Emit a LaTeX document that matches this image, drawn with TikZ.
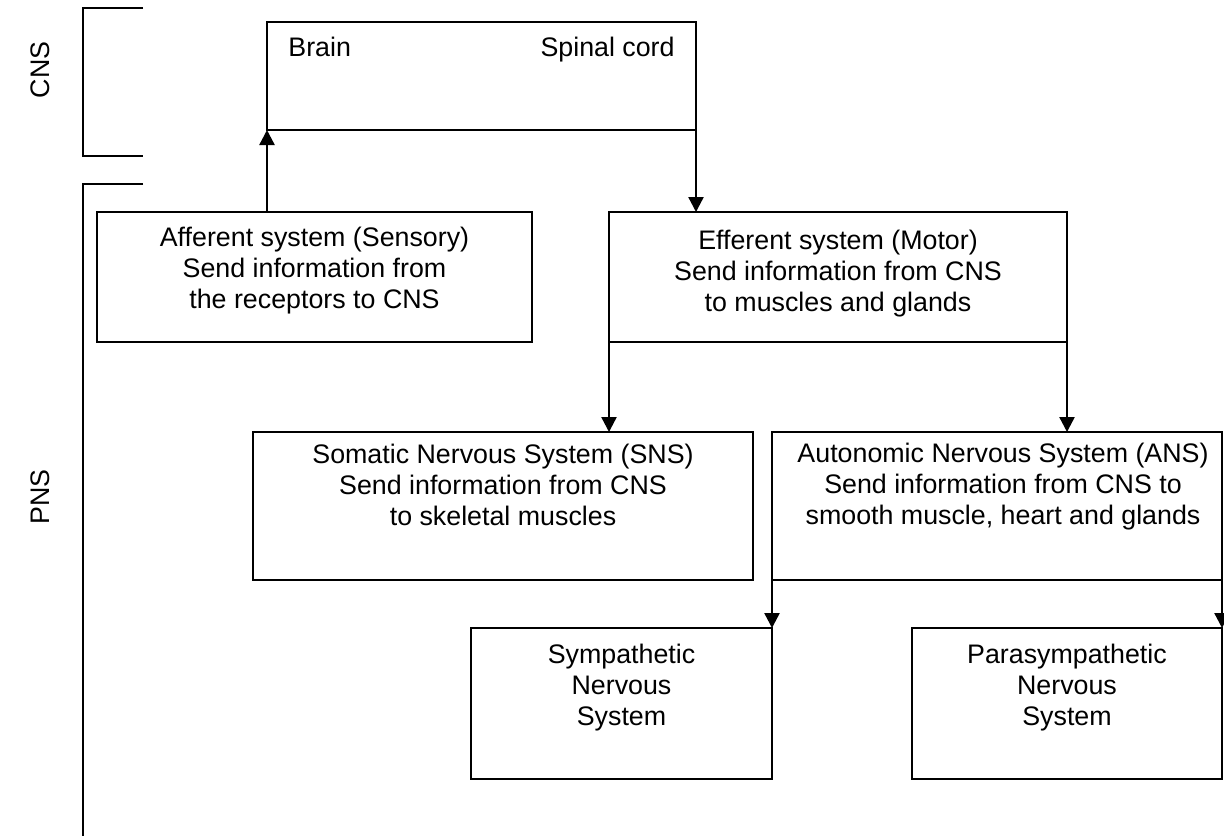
\documentclass[tikz,border=0pt]{standalone}
\usepackage{fontspec}
\setmainfont{Liberation Sans}
\usepackage{tikz}
\usetikzlibrary{positioning, arrows.meta}
\tikzset{every picture/.style={x=0.5pt,y=-0.5pt}}
\tikzset{
  box/.style={draw, line width=0.8pt, inner sep=0pt, outer sep=0pt},
  txt/.style={align=center, inner sep=0pt, font=\fontsize{13.4}{15.3}\selectfont},
  arr/.style={line width=1.2pt, -{Triangle[length=7.5pt,width=7.5pt]}}
}

\begin{document}
\begin{tikzpicture}
        \useasboundingbox (0,0) rectangle (1224,836);
        % CNS and PNS brackets
        \draw[line width=0.8pt] (143,8) -- (83,8) -- (83,156) -- (143,156);
        \draw[line width=0.8pt] (143,184) -- (83,184) -- (83,836);
        \node[txt, rotate=90] (cnslbl) at (40,70) {CNS};
        \node[txt, rotate=90] (pnslbl) at (40,497) {PNS};

        % Boxes
        \node[box, minimum width=214.5pt, minimum height=54pt] (top) at (481.5,76) {};
        \node[box, minimum width=217.5pt, minimum height=65pt] (aff) at (314.5,277) {};
        \node[box, minimum width=229pt, minimum height=65pt] (eff) at (838,277) {};
        \node[box, minimum width=250pt, minimum height=74pt] (sns) at (503,506) {};
        \node[box, minimum width=225pt, minimum height=74pt] (ans) at (997,506) {};
        \node[box, minimum width=150.5pt, minimum height=75.5pt] (sym) at (621.5,703.5) {};
        \node[box, minimum width=155pt, minimum height=75.5pt] (para) at (1067,703.5) {};

        % Texts
        \node[txt, below right=7.5pt and 10.5pt of top.north west] (brain) {Brain};
        \node[txt, below left=7.5pt and 10.5pt of top.north east] (cord) {Spinal cord};
        \node[txt, below=7.5pt of aff.north] (afftxt) {Afferent system (Sensory)\\Send information from\\the receptors to CNS};
        \node[txt, below=9pt of eff.north] (efftxt) {Efferent system (Motor)\\Send information from CNS\\to muscles and glands};
        \node[txt, below=6pt of sns.north] (snstxt) {Somatic Nervous System (SNS)\\Send information from CNS\\to skeletal muscles};
        \node[txt, below=5.5pt of ans.north, xshift=3pt] (anstxt) {Autonomic Nervous System (ANS)\\Send information from CNS to\\smooth muscle, heart and glands};
        \node[txt, below=8pt of sym.north] (symtxt) {Sympathetic\\Nervous\\System};
        \node[txt, below=8pt of para.north] (paratxt) {Parasympathetic\\Nervous\\System};

        % Arrows
        \draw[arr] (top.south west |- aff.north) -- (top.south west);
        \draw[arr] (top.south east) -- (top.south east |- eff.north);
        \draw[arr] (eff.south west) -- (eff.south west |- sns.north);
        \draw[arr] (eff.south east) -- (eff.south east |- ans.north);
        \draw[arr] (ans.south west) -- (sym.north east);
        \draw[arr] (ans.south east) -- (para.north east);
    \end{tikzpicture}
\end{document}
